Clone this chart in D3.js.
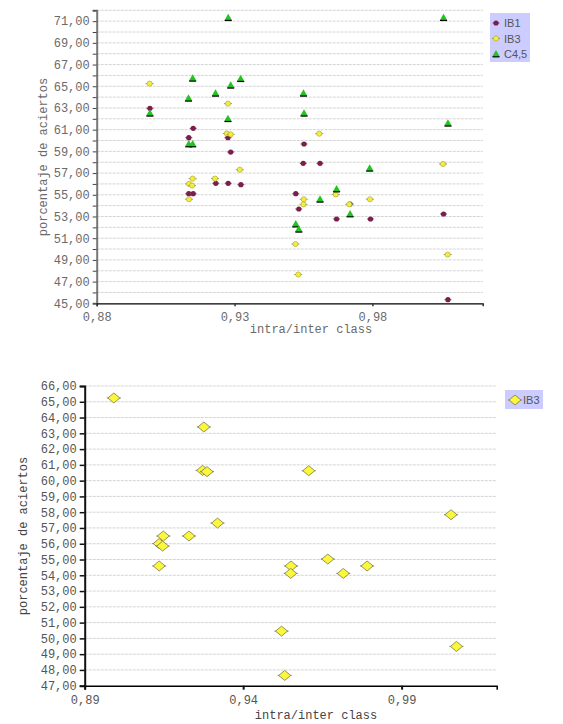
<!DOCTYPE html>
<html><head><meta charset="utf-8">
<script src="https://cdn.jsdelivr.net/npm/d3@7"></script>
<style>
body{margin:0;background:#fff;}
svg{display:block;}
</style></head>
<body>
<svg id="c" width="563" height="724"></svg>
<script>
// ---- data ----
const seriesNames = ["IB1", "IB3", "C4,5"];
const ib1X = [0.8993,0.9150,0.9134,0.9276,0.9286,0.9232,0.9277,0.9323,0.9134,0.9150,0.9552,0.9549,0.9610,0.9522,0.9719,0.9533,0.9670,0.9793,1.0058,1.0074];
const ib1Y = [62.97,61.12,60.26,60.26,58.94,56.06,56.06,55.93,55.10,55.10,59.68,57.90,57.90,55.10,54.15,53.69,52.77,52.77,53.23,45.33];
const ib3X = [0.8992,0.9276,0.9272,0.9286,0.9319,0.9148,0.9229,0.9135,0.9146,0.9135,0.9607,1.0056,0.9667,0.9551,0.9550,0.9716,0.9791,0.9521,1.0073,0.9531];
const ib3Y = [65.24,63.40,60.65,60.57,57.31,56.49,56.49,56.01,55.85,54.59,60.63,57.84,55.03,54.59,54.12,54.12,54.59,50.46,49.49,47.65];
const c45X = [0.9277,0.9148,0.9322,0.9286,0.9231,0.9133,0.8993,0.9276,0.9134,0.9148,1.0058,0.9550,0.9552,1.0074,0.9790,0.9670,0.9610,0.9719,0.9522,0.9533];
const c45Y = [71.32,65.73,65.70,65.09,64.35,63.89,62.51,62.01,59.68,59.68,71.32,64.35,62.51,61.59,57.44,55.53,54.58,53.23,52.30,51.82];
const topXTicks = [0.88, 0.93, 0.98];
const bottomXTicks = [0.89, 0.94, 0.99];
const topYDomain = [45, 72];
const bottomYDomain = [47, 66];
const xTitle = "intra/inter class";
const yTitle = "porcentaje de aciertos";

const fmt = d => d.toFixed(2).replace(".", ",");
const svg = d3.select("#c");
const MONO = "'Liberation Mono', 'DejaVu Sans Mono', monospace";

const C_IB1 = "#7a1f4c", C_IB3 = "#f2ef3c", C_C45 = "#22c322";

function zip(xs, ys){ return xs.map((x,i)=>({x, y: ys[i]})); }

// ---------- TOP CHART ----------
(function(){
  const x = d3.scaleLinear().domain([0.88, 1.02]).range([96.7, 482.7]);
  const y = d3.scaleLinear().domain(topYDomain).range([303.3, 10.3]);
  const g = svg.append("g");
  const yv = d3.range(topYDomain[0], topYDomain[1]+1);
  // grid
  g.append("g").selectAll("line").data(yv.filter(v=>v>topYDomain[0])).join("line")
    .attr("x1", x.range()[0]).attr("x2", x.range()[1])
    .attr("y1", d=>y(d)).attr("y2", d=>y(d))
    .attr("stroke", "#d4d4d4").attr("stroke-width", 1).attr("stroke-dasharray", "3,1");
  // y axis
  const ya = g.append("g").attr("transform", `translate(${x.range()[0]},0)`)
    .call(d3.axisLeft(y).tickValues(yv).tickSize(4).tickPadding(3)
      .tickFormat(d => (d % 2 === 1 && d < 72) ? fmt(d) : ""));
  ya.select(".domain").attr("stroke", "#777").attr("stroke-width", 2);
  ya.selectAll(".tick line").attr("stroke", "#444");
  ya.selectAll("text").attr("font-family", MONO).attr("font-size", 12).attr("fill", "#6a6a6a");
  // x axis
  const xa = g.append("g").attr("transform", `translate(0,${y.range()[0]})`)
    .call(d3.axisBottom(x).tickValues(topXTicks).tickSize(3).tickPadding(6).tickFormat(fmt));
  xa.select(".domain").attr("stroke", "#000").attr("stroke-width", 1.2);
  xa.selectAll(".tick line").attr("stroke", "#333").attr("stroke-width", 1.5);
  xa.selectAll("text").attr("font-family", MONO).attr("font-size", 12).attr("fill", "#6a6a6a");
  // titles
  g.append("text").attr("x", 311).attr("y", 333).attr("text-anchor", "middle")
    .attr("font-family", MONO).attr("font-size", 12).attr("fill", "#6a6a6a").text(xTitle);
  g.append("text").attr("transform", "translate(47,157) rotate(-90)").attr("text-anchor", "middle")
    .attr("font-family", MONO).attr("font-size", 12).attr("fill", "#6a6a6a").text(yTitle);

  // markers
  function ib1(sel){
    sel.append("line").attr("x1",-3.5).attr("x2",3.5).attr("stroke", "#8a4a6a").attr("stroke-width",1);
    sel.append("circle").attr("r",2.6).attr("fill", C_IB1);
  }
  function ib3(sel){
    sel.append("line").attr("x1",-4).attr("x2",4).attr("stroke", "#999966").attr("stroke-width",1);
    sel.append("circle").attr("r",2.6).attr("fill", C_IB3).attr("stroke","#aaa040").attr("stroke-width",0.6);
  }
  function c45(sel){
    sel.append("path").attr("d", d3.symbol(d3.symbolTriangle, 26)()).attr("fill", C_C45)
      .attr("transform","translate(0,0.5)");
    sel.append("line").attr("x1",-3.5).attr("x2",3.5).attr("y1",2.8).attr("y2",2.8).attr("stroke","#000").attr("stroke-width",1.2);
  }
  const pts = g.append("g");
  pts.selectAll("g.ib1").data(zip(ib1X, ib1Y)).join("g").attr("class","ib1")
    .attr("transform", d=>`translate(${x(d.x)},${y(d.y)})`).call(ib1);
  pts.selectAll("g.ib3").data(zip(ib3X, ib3Y)).join("g").attr("class","ib3")
    .attr("transform", d=>`translate(${x(d.x)},${y(d.y)})`).call(ib3);
  pts.selectAll("g.c45").data(zip(c45X, c45Y)).join("g").attr("class","c45")
    .attr("transform", d=>`translate(${x(d.x)},${y(d.y)})`).call(c45);

  // legend
  const lg = g.append("g").attr("transform","translate(490,13)");
  lg.append("rect").attr("width", 40).attr("height", 49).attr("fill", "#ccccff");
  const rows = lg.selectAll("g").data(seriesNames).join("g")
    .attr("transform", (d,i)=>`translate(6,${10 + i*15.5})`);
  rows.each(function(d,i){
    const s = d3.select(this);
    if(i===0) ib1(s); else if(i===1) ib3(s); else c45(s);
  });
  rows.append("text").attr("x", 8).attr("y", 4).attr("font-family","'Liberation Sans', Arial, sans-serif")
    .attr("font-size", 11).attr("fill","#555").text(d=>d);
})();

// ---------- BOTTOM CHART ----------
(function(){
  const x = d3.scaleLinear().domain([0.89, 1.02]).range([84.7, 496.7]);
  const y = d3.scaleLinear().domain(bottomYDomain).range([685.7, 386]);
  const g = svg.append("g");
  const yv = d3.range(bottomYDomain[0], bottomYDomain[1]+1);
  g.append("g").selectAll("line").data(yv.filter(v=>v>bottomYDomain[0])).join("line")
    .attr("x1", x.range()[0]).attr("x2", x.range()[1])
    .attr("y1", d=>y(d)).attr("y2", d=>y(d))
    .attr("stroke", "#d4d4d4").attr("stroke-width", 1).attr("stroke-dasharray", "3,1");
  const ya = g.append("g").attr("transform", `translate(${x.range()[0]},0)`)
    .call(d3.axisLeft(y).tickValues(yv).tickSize(5).tickPadding(3).tickFormat(fmt));
  ya.select(".domain").attr("stroke", "#111").attr("stroke-width", 2);
  ya.selectAll(".tick line").attr("stroke", "#111").attr("stroke-width", 1.5);
  ya.selectAll("text").attr("font-family", MONO).attr("font-size", 12).attr("fill", "#555");
  const xa = g.append("g").attr("transform", `translate(0,${y.range()[0]})`)
    .call(d3.axisBottom(x).tickValues(bottomXTicks).tickSize(4).tickPadding(6).tickFormat(fmt));
  xa.select(".domain").attr("stroke", "#000").attr("stroke-width", 1.5);
  xa.selectAll(".tick line").attr("stroke", "#111").attr("stroke-width", 2);
  xa.selectAll("text").attr("font-family", MONO).attr("font-size", 12).attr("fill", "#555");
  g.append("text").attr("x", 316).attr("y", 719).attr("text-anchor", "middle")
    .attr("font-family", MONO).attr("font-size", 12).attr("fill", "#444").text(xTitle);
  g.append("text").attr("transform", "translate(27,536) rotate(-90)").attr("text-anchor", "middle")
    .attr("font-family", MONO).attr("font-size", 12).attr("fill", "#444").text(yTitle);

  const diamond = "M0,-5L6,0L0,5L-6,0Z";
  function ib3b(sel){
    sel.append("line").attr("x1",-7).attr("x2",7).attr("stroke","#777").attr("stroke-width",1);
    sel.append("path").attr("d", diamond).attr("fill", "#fbf73a").attr("stroke", "#8a8650").attr("stroke-width", 0.9);
  }
  g.append("g").selectAll("g").data(zip(ib3X, ib3Y)).join("g")
    .attr("transform", d=>`translate(${x(d.x)},${y(d.y)})`).call(ib3b);

  const lg = g.append("g").attr("transform","translate(505,390)");
  lg.append("rect").attr("width", 38).attr("height", 19).attr("fill", "#ccccff");
  const row = lg.append("g").attr("transform","translate(10,10)");
  row.call(ib3b);
  row.append("text").attr("x", 8).attr("y", 4).attr("font-family","'Liberation Sans', Arial, sans-serif")
    .attr("font-size", 11).attr("fill","#555").text(seriesNames[1]);
})();
</script>
</body></html>
